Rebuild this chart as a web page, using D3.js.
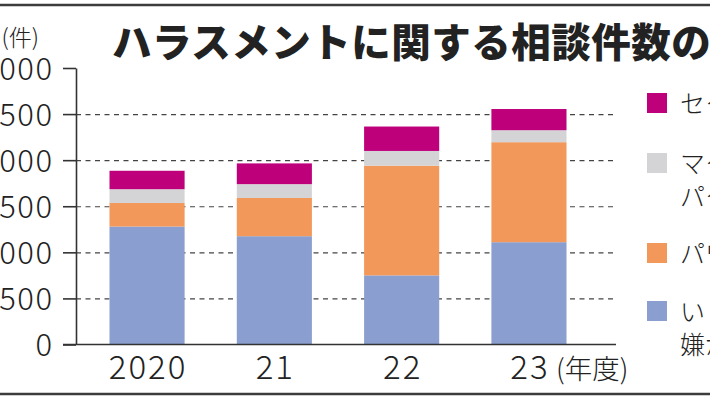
<!DOCTYPE html>
<html>
<head>
<meta charset="utf-8">
<script src="https://cdn.jsdelivr.net/npm/d3@7"></script>
<style>
html,body{margin:0;padding:0;background:#fff;overflow:hidden;}
svg{display:block;}
text{font-family:"Noto Sans CJK JP","Noto Sans",sans-serif;fill:#222;}
</style>
</head>
<body>
<svg id="chart" width="710" height="400"></svg>
<script>
// ---- data ----
const categories = ["2020", "21", "22", "23"];
const ijime    = [1280, 1175, 750, 1110];   // いじめ・嫌がらせ
const pawahara = [255, 415, 1190, 1085];    // パワハラ
const matahara = [150, 150, 160, 130];      // マタハラ・パタハラ
const sekuhara = [200, 225, 265, 230];      // セクハラ
const seriesKeys   = ["ijime", "pawahara", "matahara", "sekuhara"];
const seriesLabels = [["いじめ・", "嫌がらせ"], ["パワハラ"], ["マタハラ・", "パタハラ"], ["セクハラ"]];
const seriesColors = ["#8a9ecf", "#f2985a", "#d4d4d6", "#be007b"];
const yTicks = [0, 500, 1000, 1500, 2000, 2500, 3000];
const titleText = "ハラスメントに関する相談件数の";
const yUnit = "(件)";
const xUnit = "(年度)";

const table = categories.map((c, i) => ({
  cat: c, ijime: ijime[i], pawahara: pawahara[i], matahara: matahara[i], sekuhara: sekuhara[i]
}));

// ---- layout ----
const W = 710, H = 400;
const axisX = 76, gridRight = 616, tickLen = 13;
const svg = d3.select("#chart");

const x = d3.scaleBand().domain(categories).range([83.4, 592.6]).paddingInner(0.41).paddingOuter(0.205);
const y = d3.scaleLinear().domain([0, 3000]).range([344.5, 68]);

// frame lines
svg.append("line").attr("x1", 0).attr("x2", W).attr("y1", 5).attr("y2", 5)
  .attr("stroke", "#3c3c3c").attr("stroke-width", 2.5);
svg.append("line").attr("x1", 0).attr("x2", W).attr("y1", 394).attr("y2", 394)
  .attr("stroke", "#3c3c3c").attr("stroke-width", 2.5);

// gridlines
const grid = svg.append("g").attr("transform", `translate(${axisX},0)`)
  .call(d3.axisLeft(y).tickValues(yTicks.filter(v => v > 0 && v < 3000))
    .tickSize(-(gridRight - axisX)).tickFormat(""));
grid.select(".domain").remove();
grid.selectAll(".tick line").attr("stroke", "#444").attr("stroke-width", 1.2).attr("stroke-dasharray", "5,4.5");

// stacked bars
const stack = d3.stack().keys(seriesKeys)(table);
svg.append("g").selectAll("g").data(stack).join("g")
  .attr("fill", (d, i) => seriesColors[i])
  .selectAll("rect").data(d => d).join("rect")
  .attr("x", d => x(d.data.cat))
  .attr("width", x.bandwidth())
  .attr("y", d => y(d[1]))
  .attr("height", d => y(d[0]) - y(d[1]));

// y axis
const yAxis = svg.append("g").attr("transform", `translate(${axisX},0)`)
  .call(d3.axisLeft(y).tickValues(yTicks).tickSize(tickLen).tickSizeOuter(0).tickPadding(10));
yAxis.select(".domain").attr("stroke", "#333").attr("stroke-width", 1.6);
yAxis.selectAll(".tick line").attr("stroke", "#333").attr("stroke-width", 1.6);
yAxis.selectAll(".tick text")
  .attr("font-family", "'Noto Sans CJK JP', sans-serif")
  .attr("font-size", 31).attr("font-weight", 300)
  .attr("letter-spacing", 1.5)
  .attr("fill", "#222")
  .attr("x", -(axisX - 52) + 1.5)
  .attr("dy", "0.36em");

// x axis
svg.append("line").attr("x1", axisX - tickLen).attr("x2", gridRight)
  .attr("y1", y(0)).attr("y2", y(0)).attr("stroke", "#333").attr("stroke-width", 1.6);
svg.append("g").selectAll("text").data(categories).join("text")
  .attr("x", d => x(d) + x.bandwidth() / 2 + 1)
  .attr("y", 379)
  .attr("text-anchor", "middle")
  .attr("font-size", 33).attr("font-weight", 300).attr("letter-spacing", 2)
  .text(d => d);
svg.append("text").attr("x", 556).attr("y", 378.5)
  .attr("font-size", 27.5).attr("font-weight", 300).text(xUnit);

// y unit
svg.append("text").attr("x", 39).attr("y", 46).attr("text-anchor", "end")
  .attr("font-size", 23).attr("font-weight", 300).text(yUnit);

// title
svg.append("text").attr("x", 112).attr("y", 57)
  .attr("font-size", 39.5).attr("font-weight", 900).attr("letter-spacing", 0.5)
  .attr("fill", "#111").text(titleText);

// legend (top to bottom: セクハラ, マタハラ, パワハラ, いじめ)
const legendTops = { sekuhara: 93, matahara: 153, pawahara: 243, ijime: 301 };
const lg = svg.append("g");
seriesKeys.forEach((k, i) => {
  const top = legendTops[k];
  lg.append("rect").attr("x", 647).attr("y", top).attr("width", 20).attr("height", 20)
    .attr("fill", seriesColors[i]);
  seriesLabels[i].forEach((line, j) => {
    lg.append("text").attr("x", 680).attr("y", top + 19.5 + j * 33)
      .attr("font-size", 25).attr("font-weight", 300).text(line);
  });
});
</script>
</body>
</html>
